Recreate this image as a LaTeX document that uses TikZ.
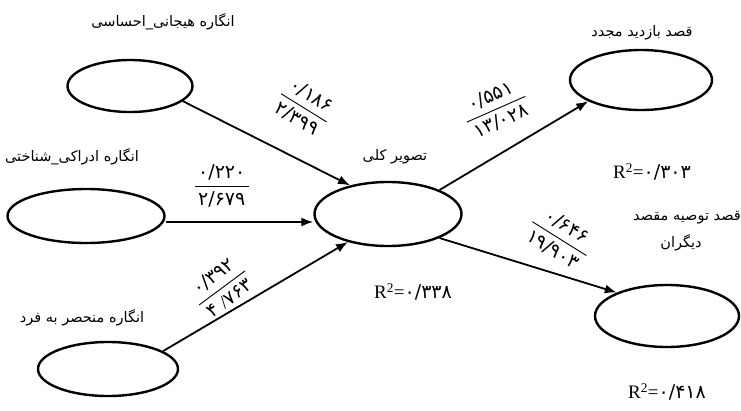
\documentclass[tikz,border=0pt]{standalone}
\usepackage{fontspec}
\setmainfont{Liberation Serif}
\newfontfamily\fa[Script=Arabic]{DejaVu Sans}
\TeXXeTstate=1
\usetikzlibrary{shapes.geometric,arrows.meta}
\setlength{\arrayrulewidth}{0.9pt}
\renewcommand{\arraystretch}{1.25}
\begin{document}
\begin{tikzpicture}[x=1pt,y=-1pt,
  ell/.style={draw, ellipse, line width=2.4pt, inner sep=0pt},
  arr/.style={line width=1.8pt, -{Latex[length=12pt,width=9pt]}},
  lbl/.style={font=\fa\fontsize{14.5}{18}\selectfont, inner sep=1pt},
  num/.style={font=\fa\fontsize{19}{21}\selectfont, inner sep=0pt, sloped},
  rsq/.style={font=\fontsize{19}{21}\selectfont, inner sep=1pt}]
\fill[white] (0,0) rectangle (741,410);
\useasboundingbox (0,0) rectangle (741,410);

% ellipses
\node[ell, minimum width=125pt, minimum height=52pt] (A) at (130,86) {};
\node[ell, minimum width=157pt, minimum height=54pt] (B) at (86,216) {};
\node[ell, minimum width=140pt, minimum height=54pt] (C) at (108,369) {};
\node[ell, minimum width=147pt, minimum height=64pt] (D) at (388,214) {};
\node[ell, minimum width=142pt, minimum height=60pt] (E) at (641,80) {};
\node[ell, minimum width=144pt, minimum height=62pt] (F) at (667,316) {};

% labels
\node[lbl] (tA) at (163,22) {\beginR انگاره هیجانی\_احساسی\endR};
\node[lbl] (tB) at (72,157) {\beginR انگاره ادراکی\_شناختی\endR};
\node[lbl] (tC) at (82,318) {\beginR انگاره منحصر به فرد\endR};
\node[lbl] (tD) at (395,157) {\beginR تصویر کلی\endR};
\node[lbl] (tE) at (642,33) {\beginR قصد بازدید مجدد\endR};
\node[lbl, anchor=west] (tF1) at (632,218) {\beginR قصد توصیه مقصد\endR};
\node[lbl] (tF2) at (681,243) {\beginR دیگران\endR};

\node[rsq] (rD) at (413,292) {R\textsuperscript{2}={\fa ۰/۳۳۸}};
\node[rsq] (rE) at (652,172) {R\textsuperscript{2}={\fa ۰/۳۰۳}};
\node[rsq] (rF) at (667,392) {R\textsuperscript{2}={\fa ۰/۴۱۸}};

% arrows with coefficients
\draw[arr] (A.-16) -- node[num, pos=0.58, above=21pt, rotate=-5] (nA) {\begin{tabular}{@{\,}c@{\,}}۰/۱۸۶\\\hline ۲/۳۹۹\end{tabular}} (D.143);
\draw[arr] (B.east |- 0,222) -- node[num, pos=0.38, above=8pt] (nB) {\begin{tabular}{@{\,}c@{\,}}۰/۲۲۰\\\hline ۲/۶۷۹\end{tabular}} (D.west |- 0,222);
\draw[arr] (C.18) -- node[num, pos=0.4, above=-3pt, rotate=6] (nC) {\begin{tabular}{@{\,}c@{\,}}۰/۳۹۲\\\hline ۴\hspace{5pt}{\rmfamily/}۷۶۳\end{tabular}} (D.215);
\draw[arr] (D.25) -- node[num, pos=0.5, above=13pt, rotate=-7] (nE) {\begin{tabular}{@{\,}c@{\,}}۰/۵۵۱\\\hline ۱۳/۰۲۸\end{tabular}} (E.202);
\draw[arr] (D.-25) -- node[num, pos=0.58, above=8pt, rotate=-15] (nF) {\begin{tabular}{@{\,}c@{\,}}۰/۶۴۶\\\hline ۱۹/۹۰۳\end{tabular}} (F.155);
\end{tikzpicture}
\end{document}
